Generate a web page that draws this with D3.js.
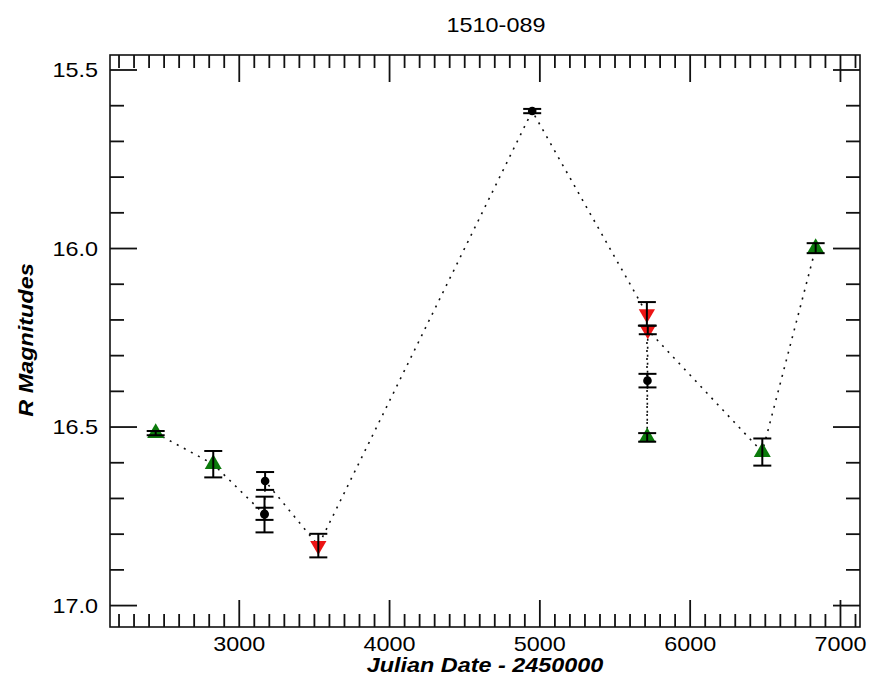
<!DOCTYPE html>
<html>
<head>
<meta charset="utf-8">
<script src="https://cdn.jsdelivr.net/npm/d3@7"></script>
<style>
  body { margin: 0; background: #fff; }
  svg text { font-family: "Liberation Sans", Arial, Helvetica, sans-serif; fill: #000; }
</style>
</head>
<body>
<svg id="chart" width="870" height="681"></svg>
<script>
const TITLE = '1510-089';
const X_LABEL = 'Julian Date - 2450000';
const Y_LABEL = 'R Magnitudes';
const xTickLabels = [3000, 4000, 5000, 6000, 7000];
const yTickLabels = [15.5, 16.0, 16.5, 17.0];

// green up-triangles
const greenDates = [2444, 2827, 5714, 6480, 6835];
const greenMags = [16.517, 16.604, 16.529, 16.570, 15.999];
const greenErrs = [0.006, 0.037, 0.012, 0.038, 0.014];

// black circles
const blackDates = [3168, 3168, 3172, 4949, 5716];
const blackMags = [16.745, 16.743, 16.651, 15.615, 16.370];
const blackErrs = [0.050, 0.017, 0.025, 0.006, 0.019];

// red down-triangles
const redDates = [3526, 5712, 5718];
const redMags = [16.832, 16.183, 16.228];
const redErrs = [0.033, 0.033, 0.012];

const frame = { left: 110, right: 860, top: 55, bottom: 627 };
const STRETCH = 1.17; // text in the original is a bit wide

const svg = d3.select('#chart');

const x = d3.scaleLinear().domain([2140, 7130]).range([frame.left, frame.right]);
const y = d3.scaleLinear().domain([15.458, 17.06]).range([frame.top, frame.bottom]);

function build(dates, mags, errs, kind) {
  return dates.map((d, i) => ({ date: d, mag: mags[i], err: errs[i], kind }));
}
const green = build(greenDates, greenMags, greenErrs, 'green');
const black = build(blackDates, blackMags, blackErrs, 'black');
const red = build(redDates, redMags, redErrs, 'red');
const all = green.concat(black, red).sort((a, b) => a.date - b.date);

function label(txt, tx, ty, opts = {}) {
  const t = svg.append('text')
    .attr('transform', `translate(${tx},${ty})${opts.rotate ? ' rotate(' + opts.rotate + ')' : ''} scale(${STRETCH},1)`)
    .attr('text-anchor', opts.anchor || 'middle')
    .attr('font-size', opts.size || 20)
    .text(txt);
  if (opts.bold) t.attr('font-weight', 'bold');
  if (opts.italic) t.attr('font-style', 'italic');
  return t;
}

// frame
svg.append('rect')
  .attr('x', frame.left).attr('y', frame.top)
  .attr('width', frame.right - frame.left)
  .attr('height', frame.bottom - frame.top)
  .attr('fill', 'none').attr('stroke', '#111').attr('stroke-width', 1.6);

// ticks, all pointing inward on four sides
const xMinor = d3.range(2200, 7101, 100);
const yMinor = d3.range(155, 171, 1).map(v => v / 10);
const ticks = svg.append('g').attr('stroke', '#111').attr('stroke-width', 1.8);

xMinor.forEach(v => {
  const len = v % 1000 === 0 ? 27 : 13;
  ticks.append('line').attr('x1', x(v)).attr('x2', x(v))
    .attr('y1', frame.bottom).attr('y2', frame.bottom - len);
  ticks.append('line').attr('x1', x(v)).attr('x2', x(v))
    .attr('y1', frame.top).attr('y2', frame.top + len);
});
yMinor.forEach(v => {
  const len = Math.round(v * 10) % 5 === 0 ? 27 : 14;
  ticks.append('line').attr('y1', y(v)).attr('y2', y(v))
    .attr('x1', frame.left).attr('x2', frame.left + len);
  ticks.append('line').attr('y1', y(v)).attr('y2', y(v))
    .attr('x1', frame.right).attr('x2', frame.right - len);
});

// tick labels
xTickLabels.forEach(v => label(String(v), x(v), 651));
yTickLabels.forEach(v => label(v.toFixed(1), 98, y(v) + 7, { anchor: 'end' }));

// titles
label(TITLE, 496, 32);
label(X_LABEL, 485, 672, { bold: true, italic: true });
label(Y_LABEL, 33, 340, { bold: true, italic: true, rotate: -90 });

// dotted connecting line
svg.append('path')
  .datum(all)
  .attr('fill', 'none')
  .attr('stroke', '#111')
  .attr('stroke-width', 1.6)
  .attr('stroke-dasharray', '2,6')
  .attr('d', d3.line().x(d => x(d.date)).y(d => y(d.mag)));

// markers
const markers = svg.append('g');
markers.selectAll('path.green').data(green).join('path')
  .attr('class', 'green')
  .attr('transform', d => `translate(${x(d.date)},${y(d.mag)})`)
  .attr('d', d3.symbol(d3.symbolTriangle, 125))
  .attr('fill', '#0b7a0b');
markers.selectAll('path.red').data(red).join('path')
  .attr('class', 'red')
  .attr('transform', d => `translate(${x(d.date)},${y(d.mag)}) rotate(180)`)
  .attr('d', d3.symbol(d3.symbolTriangle, 115))
  .attr('fill', '#ec1414');
markers.selectAll('circle').data(black).join('circle')
  .attr('cx', d => x(d.date)).attr('cy', d => y(d.mag))
  .attr('r', 4.3).attr('fill', '#000');

// error bars
const bars = svg.append('g').attr('stroke', '#000').attr('stroke-width', 2);
all.forEach(d => {
  const cx = x(d.date), y0 = y(d.mag - d.err), y1 = y(d.mag + d.err);
  bars.append('line').attr('x1', cx).attr('x2', cx).attr('y1', y0).attr('y2', y1);
  bars.append('line').attr('x1', cx - 9).attr('x2', cx + 9).attr('y1', y0).attr('y2', y0);
  bars.append('line').attr('x1', cx - 9).attr('x2', cx + 9).attr('y1', y1).attr('y2', y1);
});
</script>
</body>
</html>
